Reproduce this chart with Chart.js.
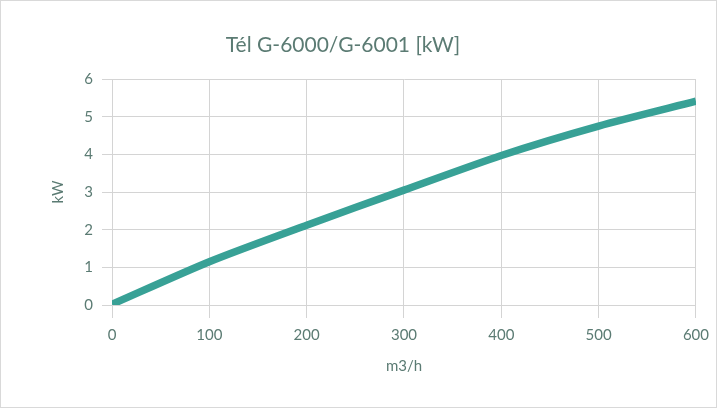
<!DOCTYPE html>
<html>
<head>
<meta charset="utf-8">
<script src="https://cdn.jsdelivr.net/npm/chart.js@4/dist/chart.umd.min.js"></script>
<style>
  body { margin: 0; background: #fff; }
  #wrap { width: 717px; height: 408px; position: relative; }
</style>
</head>
<body>
<div id="wrap"><canvas id="c" width="717" height="408"></canvas></div>
<script>
var titleText = "Tél G-6000/G-6001 [kW]";
var xLabel = "m3/h";
var yLabel = "kW";
var flow = [0, 100, 200, 300, 400, 500, 600];
var power = [0.02, 1.15, 2.12, 3.05, 3.97, 4.75, 5.41];

var textColor = "#5b7b73";
var gridColor = "#d4d4d4";
var lineColor = "#38a196";
var fontFamily = "Lato, 'Liberation Sans', sans-serif";

var points = [];
for (var i = 0; i < flow.length; i++) {
    points.push({x: flow[i], y: power[i]});
}

// title and outer frame, drawn by hand so they sit where the original has them
var frame = {
    id: "frame",
    beforeDraw: function(chart) {
        var ctx = chart.ctx;
        ctx.save();
        ctx.fillStyle = "#fff";
        ctx.fillRect(0, 0, chart.width, chart.height);
        ctx.strokeStyle = "#d9d9d9";
        ctx.lineWidth = 1;
        ctx.strokeRect(0.5, 0.5, chart.width - 1, chart.height - 1);
        ctx.restore();
    },
    afterDraw: function(chart) {
        var ctx = chart.ctx;
        ctx.save();
        ctx.font = "21px " + fontFamily;
        ctx.fillStyle = textColor;
        ctx.textAlign = "center";
        ctx.textBaseline = "middle";
        ctx.fillText(titleText, 343, 45);
        ctx.restore();
    }
};

new Chart(document.getElementById("c"), {
    type: "line",
    data: {
        datasets: [{
            data: points,
            borderColor: lineColor,
            borderWidth: 7.5,
            pointRadius: 0,
            tension: 0.25,
            fill: false
        }]
    },
    options: {
        responsive: false,
        animation: false,
        layout: { padding: { top: 79, right: 21, left: 0, bottom: 0 } },
        plugins: {
            legend: { display: false },
            tooltip: { enabled: false }
        },
        scales: {
            x: {
                type: "linear",
                min: 0,
                max: 600,
                ticks: { stepSize: 100, color: textColor, font: { family: fontFamily, size: 15 }, padding: 8, maxRotation: 0 },
                grid: { color: gridColor, tickLength: 13, tickColor: gridColor },
                border: { color: gridColor },
                title: { display: true, text: xLabel, color: textColor, font: { family: fontFamily, size: 15 }, padding: { top: 4, bottom: 33 } },
                afterFit: function(s) { s.height = 103; }
            },
            y: {
                min: 0,
                max: 6,
                ticks: { stepSize: 1, color: textColor, font: { family: fontFamily, size: 15 }, padding: 9 },
                grid: { color: gridColor, tickLength: 10, tickColor: gridColor },
                border: { color: gridColor },
                title: { display: true, text: yLabel, color: textColor, font: { family: fontFamily, size: 15 }, padding: { top: 49, bottom: 4 } },
                afterFit: function(s) { s.width = 112; }
            }
        }
    },
    plugins: [frame]
});
</script>
</body>
</html>
